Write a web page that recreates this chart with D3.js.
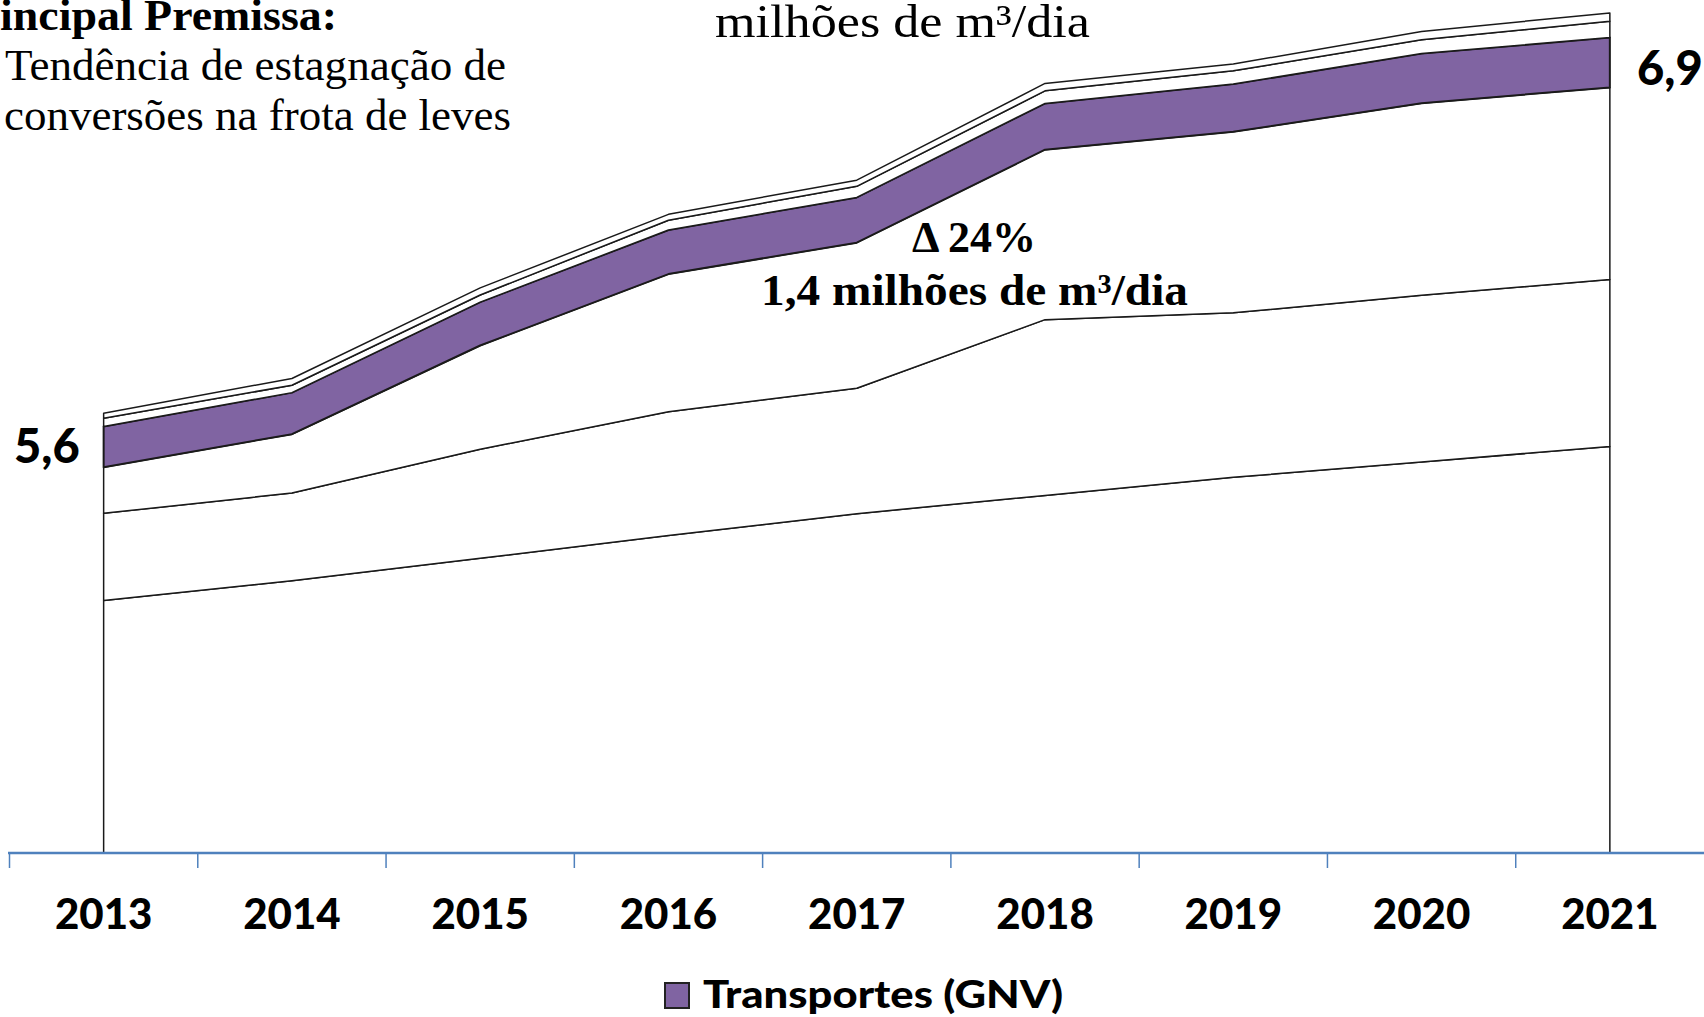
<!DOCTYPE html>
<html>
<head>
<meta charset="utf-8">
<script src="https://cdn.jsdelivr.net/npm/d3@7"></script>
<style>
  html, body { margin: 0; padding: 0; background: #fff; }
  svg { display: block; }
</style>
</head>
<body>
<div id="chart"></div>
<script>
// data (milhões de m3/dia), stacked bottom -> top
var years = ["2013", "2014", "2015", "2016", "2017", "2018", "2019", "2020", "2021"];
var base  = [4.990, 5.054, 5.127, 5.201, 5.272, 5.331, 5.390, 5.440, 5.490];
var band2 = [0.283, 0.285, 0.354, 0.402, 0.407, 0.571, 0.534, 0.541, 0.542];
var band3 = [0.150, 0.191, 0.337, 0.447, 0.473, 0.552, 0.588, 0.624, 0.624];
var gnv   = [0.132, 0.135, 0.141, 0.143, 0.147, 0.150, 0.155, 0.161, 0.162];
var band5 = [0.027, 0.024, 0.023, 0.032, 0.036, 0.041, 0.043, 0.045, 0.053];
var band6 = [0.016, 0.022, 0.023, 0.019, 0.020, 0.024, 0.022, 0.027, 0.027];
var keys = ["base", "band2", "band3", "gnv", "band5", "band6"];
var legendLabel = "Transportes (GNV)";
var startLabel = "5,6", endLabel = "6,9";
var yMin = 4.17, yMax = 6.94;

var containerWidth = 1704,
    containerHeight = 1017,
    axisY = 853;

var rows = years.map(function(y, i) {
    return { year: y, base: base[i], band2: band2[i], band3: band3[i], gnv: gnv[i], band5: band5[i], band6: band6[i] };
});

var svg = d3.select("#chart")
    .append("svg")
    .attr("width", containerWidth)
    .attr("height", containerHeight);

var x = d3.scaleBand()
    .domain(years)
    .range([9.5, 1704]);

var cx = function(d) { return x(d) + x.bandwidth() / 2; };

var y = d3.scaleLinear()
    .domain([yMin, yMax])
    .range([axisY, 0])
    .clamp(true);

var stacked = d3.stack().keys(keys)(rows);

var area = d3.area()
    .x(function(d) { return cx(d.data.year); })
    .y0(function(d) { return y(d[0]); })
    .y1(function(d) { return y(d[1]); });

svg.append("g")
    .selectAll("path")
    .data(stacked)
    .enter().append("path")
    .attr("d", area)
    .attr("fill", function(d) { return d.key == "gnv" ? "#8064A2" : "#fff"; })
    .attr("stroke", "#1a1a1a")
    .attr("stroke-width", function(d) { return d.key == "gnv" ? 2 : 1.5; })
    .attr("stroke-linejoin", "round");

// category axis
var axis = svg.append("g");
axis.append("line")
    .attr("x1", 8).attr("x2", containerWidth)
    .attr("y1", axisY).attr("y2", axisY)
    .attr("stroke", "#4F81BD")
    .attr("stroke-width", 2.5);

axis.selectAll(".tick")
    .data(years)
    .enter().append("line")
    .attr("class", "tick")
    .attr("x1", function(d) { return x(d); })
    .attr("x2", function(d) { return x(d); })
    .attr("y1", axisY).attr("y2", axisY + 15)
    .attr("stroke", "#4F81BD")
    .attr("stroke-width", 1.5);

axis.selectAll(".year")
    .data(years)
    .enter().append("text")
    .attr("class", "year")
    .attr("x", cx)
    .attr("y", 929)
    .attr("text-anchor", "middle")
    .style("font-family", "Lato, 'Open Sans', sans-serif")
    .style("font-weight", "900")
    .style("font-size", "42px")
    .text(function(d) { return d; });

// start / end values
svg.append("text")
    .attr("x", 14).attr("y", 463)
    .style("font-family", "Lato, sans-serif").style("font-weight", "900").style("font-size", "47px")
    .text(startLabel);

svg.append("text")
    .attr("x", 1637).attr("y", 85)
    .style("font-family", "Lato, sans-serif").style("font-weight", "900").style("font-size", "47px")
    .text(endLabel);

// legend
svg.append("rect")
    .attr("x", 665).attr("y", 983)
    .attr("width", 24).attr("height", 25)
    .attr("fill", "#8064A2")
    .attr("stroke", "#222")
    .attr("stroke-width", 2);

svg.append("text")
    .attr("x", 703).attr("y", 1008)
    .attr("textLength", 360)
    .attr("lengthAdjust", "spacingAndGlyphs")
    .style("font-family", "Lato, sans-serif").style("font-weight", "900").style("font-size", "37px")
    .text(legendLabel);

// serif notes
var serif = "'Liberation Serif', 'DejaVu Serif', serif";

svg.append("text")
    .attr("x", 0).attr("y", 30)
    .attr("textLength", 337).attr("lengthAdjust", "spacingAndGlyphs")
    .style("font-family", serif).style("font-weight", "bold").style("font-size", "44px")
    .text("incipal Premissa:");

svg.append("text")
    .attr("x", 5).attr("y", 80)
    .attr("textLength", 501).attr("lengthAdjust", "spacingAndGlyphs")
    .style("font-family", serif).style("font-size", "44px")
    .text("Tendência de estagnação de");

svg.append("text")
    .attr("x", 4).attr("y", 130)
    .attr("textLength", 507).attr("lengthAdjust", "spacingAndGlyphs")
    .style("font-family", serif).style("font-size", "44px")
    .text("conversões na frota de leves");

svg.append("text")
    .attr("x", 715).attr("y", 37)
    .attr("textLength", 375).attr("lengthAdjust", "spacingAndGlyphs")
    .style("font-family", serif).style("font-size", "46px")
    .text("milhões de m³/dia");

svg.append("text")
    .attr("x", 974).attr("y", 252)
    .attr("text-anchor", "middle")
    .style("font-family", serif).style("font-weight", "bold").style("font-size", "44px")
    .text("Δ 24%");

svg.append("text")
    .attr("x", 761).attr("y", 305)
    .attr("textLength", 427).attr("lengthAdjust", "spacingAndGlyphs")
    .style("font-family", serif).style("font-weight", "bold").style("font-size", "44px")
    .text("1,4 milhões de m³/dia");
</script>
</body>
</html>
